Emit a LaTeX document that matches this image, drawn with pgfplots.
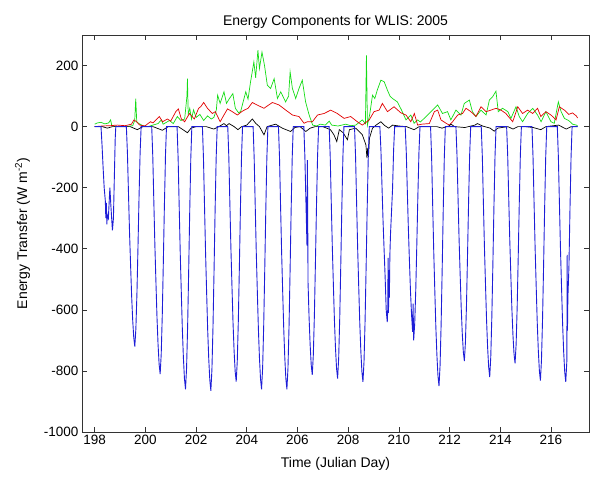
\documentclass[border=0pt]{standalone}
\usepackage{fontspec}
\setmainfont{Liberation Sans}
\usepackage{pgfplots}
\pgfplotsset{compat=1.18}
\definecolor{mblue}{RGB}{30,30,215}
\definecolor{mgreen}{RGB}{20,220,20}
\definecolor{mred}{RGB}{225,0,0}

\begin{document}
\begin{tikzpicture}
\begin{axis}[
  scale only axis, width=507pt, height=397pt,
  xmin=197.5, xmax=217.5, ymin=-1000, ymax=300,
  xtick={198,200,...,216}, ytick={-1000,-800,...,200},
  tick align=inside, tick pos=both, major tick length=5pt,
  axis line style={line width=0.7pt, black!80},
  every tick/.style={black!80, line width=0.7pt},
  /pgf/number format/assume math mode=true,
  /pgf/number format/1000 sep={},
  ticklabel style={font=\fontsize{13.5}{15}\selectfont},
  label style={font=\fontsize{14}{16}\selectfont},
  title style={font=\fontsize{14}{16}\selectfont, yshift=-3pt},
  title={Energy Components for WLIS: 2005},
  xlabel={Time (Julian Day)},
  ylabel={Energy Transfer (W m\textsuperscript{-2})},
  xlabel shift=5pt, ylabel shift=7pt,
  every axis plot/.append style={line width=0.7pt},
]
% green
\addplot[color=mgreen] coordinates {
(198.0,8)(198.1,12)(198.25,14)(198.4,9)(198.55,12)(198.63,22)(198.67,5)(198.8,0)
(199.2,0)(199.5,3)(199.58,20)(199.62,92)(199.66,15)(199.75,10)(199.9,3)(200.1,0)
(200.3,5)(200.5,10)(200.63,22)(200.7,8)(200.85,15)(200.95,20)(201.1,10)(201.26,33)
(201.4,20)(201.55,25)(201.64,100)(201.66,157)(201.69,40)(201.75,60)(201.82,25)(201.9,55)
(202.0,30)(202.15,40)(202.3,20)(202.45,35)(202.6,25)(202.7,30)(202.8,55)(202.85,103)
(202.95,76)(203.1,114)(203.2,76)(203.3,90)(203.45,108)(203.55,60)(203.68,45)(203.76,50)
(203.96,114)(204.05,90)(204.15,147)(204.28,212)(204.35,160)(204.44,250)(204.5,190)(204.6,244)
(204.7,200)(204.81,136)(204.94,125)(205.08,157)(205.21,92)(205.34,114)(205.53,81)(205.65,100)
(205.71,179)(205.8,125)(205.93,92)(206.06,125)(206.19,152)(206.32,81)(206.46,38)(206.6,5)
(206.75,2)(206.9,8)(207.1,5)(207.25,18)(207.35,5)(207.6,2)(207.9,8)(208.1,3)
(208.3,5)(208.56,22)(208.68,10)(208.72,233)(208.76,5)(208.85,40)(208.96,103)(209.05,92)
(209.15,120)(209.29,152)(209.42,147)(209.55,119)(209.65,100)(209.75,92)(209.94,81)(210.1,55)
(210.28,22)(210.47,38)(210.6,11)(210.74,22)(210.85,15)(211.4,60)(211.53,71)(211.72,43)
(211.92,49)(212.05,22)(212.25,54)(212.45,38)(212.58,76)(212.78,87)(212.9,49)(213.04,33)
(213.24,54)(213.44,38)(213.57,87)(213.7,98)(213.83,116)(213.92,49)(214.09,60)(214.3,49)
(214.42,27)(214.62,65)(214.75,33)(214.88,16)(215.08,43)(215.28,60)(215.47,38)(215.61,16)
(215.8,49)(216.0,16)(216.13,11)(216.29,81)(216.4,49)(216.53,27)(216.7,20)(216.85,8)
(217.0,5)(217.05,3)
};
% red
\addplot[color=mred] coordinates {
(198.0,0)(198.3,2)(198.6,3)(198.9,5)(199.2,3)(199.45,8)(199.55,22)(199.65,16)
(199.78,5)(199.98,2)(200.2,16)(200.3,12)(200.45,25)(200.55,33)(200.68,16)(200.87,25)
(201.0,18)(201.2,49)(201.3,58)(201.42,25)(201.55,16)(201.74,43)(201.93,25)(202.1,60)
(202.18,65)(202.3,79)(202.45,60)(202.64,43)(202.76,49)(202.95,16)(203.1,38)(203.24,58)
(203.43,49)(203.63,38)(203.8,49)(203.9,54)(204.05,60)(204.22,79)(204.4,71)(204.68,60)
(204.85,70)(205.01,79)(205.27,71)(205.54,54)(205.8,38)(206.06,33)(206.26,11)(206.39,16)
(206.59,16)(206.79,38)(207.05,43)(207.31,54)(207.57,43)(207.84,27)(208.1,33)(208.36,16)
(208.56,5)(208.83,22)(209.02,49)(209.22,54)(209.35,76)(209.55,49)(209.81,65)(210.08,45)
(210.28,38)(210.47,16)(210.61,43)(210.74,5)(210.9,8)(211.2,10)(211.4,49)(211.53,54)
(211.66,22)(211.86,11)(211.99,5)(212.12,16)(212.32,38)(212.51,43)(212.65,60)(212.84,49)
(213.04,33)(213.24,65)(213.44,49)(213.63,54)(213.83,60)(214.03,54)(214.22,43)(214.49,16)
(214.69,65)(214.88,43)(215.08,54)(215.28,43)(215.47,60)(215.6,33)(215.8,49)(216.0,38)
(216.2,22)(216.33,65)(216.53,54)(216.7,40)(216.85,45)(217.0,35)(217.05,28)
};
% black
\addplot[color=black] coordinates {
(198.0,0)(198.3,0)(198.5,-5)(198.7,0)(199.0,0)(199.4,0)(199.68,-10)(199.9,0)
(200.3,0)(200.67,-12)(200.9,0)(201.3,0)(201.66,-20)(201.8,-5)(202.0,0)(202.4,0)
(202.7,-8)(202.9,0)(203.1,10)(203.2,3)(203.3,10)(203.5,0)(203.65,-10)(203.8,0)
(204.0,5)(204.22,25)(204.35,11)(204.5,0)(204.68,-27)(204.8,0)(205.14,8)(205.4,-5)
(205.73,-16)(205.9,-3)(206.1,0)(206.33,-16)(206.5,-5)(206.7,0)(207.0,0)(207.3,-10)
(207.44,-27)(207.55,-49)(207.65,-10)(207.8,-20)(207.97,-43)(208.05,-10)(208.3,-5)(208.56,-27)
(208.7,-60)(208.74,-103)(208.77,-70)(208.8,-100)(208.84,-38)(208.96,-5)(209.1,5)(209.29,16)
(209.45,3)(209.6,-5)(209.75,5)(210.0,2)(210.3,0)(210.6,-10)(210.8,0)(211.5,0)
(211.7,-5)(212.0,3)(212.05,8)(212.2,0)(212.6,-3)(213.0,5)(213.1,10)(213.3,2)
(213.6,-5)(213.76,-15)(213.9,-5)(214.3,0)(214.5,-8)(214.7,0)(215.0,0)(215.3,-3)
(215.6,-10)(215.8,0)(216.3,5)(216.6,-8)(216.8,0)(217.05,0)
};
% blue
\addplot[color=mblue, sharp plot, line width=0.9pt] coordinates {
(198.0,0)
(198.25,0)(198.29,-60)(198.33,-130)(198.375,-200)(198.42,-243)(198.44,-300)(198.46,-250)(198.48,-320)
(198.5,-290)(198.54,-300)(198.6,-200)(198.64,-260)(198.7,-340)(198.74,-300)(198.78,-150)(198.81,-40)(198.833,0)
(199.25,0)(199.292,-86)(199.333,-216)(199.375,-346)(199.417,-454)(199.458,-554)(199.5,-634)(199.542,-691)
(199.583,-720)(199.625,-662)(199.667,-547)(199.708,-396)(199.75,-230)(199.792,-86)(199.833,0)
(200.25,0)(200.292,-97)(200.333,-243)(200.375,-389)(200.417,-510)(200.458,-624)(200.5,-713)(200.542,-778)
(200.583,-810)(200.625,-745)(200.667,-616)(200.708,-446)(200.75,-259)(200.78,-150)(200.792,-97)(200.833,0)
(201.25,0)(201.292,-103)(201.333,-258)(201.375,-413)(201.417,-542)(201.458,-662)(201.5,-757)(201.542,-826)
(201.583,-860)(201.625,-791)(201.667,-654)(201.708,-473)(201.75,-275)(201.792,-103)(201.833,0)
(202.25,0)(202.292,-104)(202.333,-260)(202.375,-415)(202.417,-545)(202.458,-666)(202.5,-761)(202.542,-830)
(202.583,-865)(202.625,-796)(202.667,-657)(202.708,-476)(202.75,-277)(202.792,-104)(202.833,0)
(203.25,0)(203.292,-100)(203.333,-251)(203.375,-401)(203.417,-526)(203.458,-643)(203.5,-735)(203.542,-802)
(203.583,-835)(203.625,-768)(203.667,-635)(203.708,-459)(203.75,-267)(203.792,-100)(203.833,0)
(204.25,0)(204.292,-103)(204.333,-258)(204.375,-413)(204.417,-542)(204.458,-662)(204.5,-757)(204.542,-826)
(204.583,-860)(204.625,-791)(204.667,-654)(204.708,-473)(204.75,-275)(204.792,-103)(204.833,0)
(205.25,0)(205.292,-103)(205.333,-258)(205.375,-413)(205.417,-542)(205.458,-662)(205.5,-757)(205.542,-826)
(205.583,-860)(205.625,-791)(205.667,-654)(205.708,-473)(205.75,-275)(205.792,-103)(205.833,0)
(206.25,0)(206.292,-98)(206.333,-244)(206.375,-390)(206.39,-110)(206.4,-228)(206.417,-512)(206.458,-626)
(206.5,-715)(206.542,-780)(206.583,-813)(206.625,-748)(206.667,-618)(206.708,-447)(206.75,-260)(206.792,-98)(206.833,0)
(207.25,0)(207.292,-99)(207.333,-248)(207.375,-396)(207.417,-520)(207.458,-635)(207.5,-726)(207.542,-792)
(207.583,-825)(207.625,-759)(207.667,-627)(207.708,-454)(207.75,-264)(207.792,-99)(207.833,0)
(208.25,0)(208.292,-100)(208.333,-251)(208.375,-401)(208.417,-527)(208.458,-644)(208.5,-736)(208.542,-803)
(208.583,-836)(208.625,-769)(208.667,-635)(208.708,-460)(208.75,-268)(208.792,-100)(208.833,0)
(209.25,0)(209.292,-77)(209.333,-192)(209.375,-307)(209.417,-403)(209.458,-493)(209.5,-600)(209.52,-620)
(209.542,-640)(209.56,-600)(209.575,-430)(209.59,-610)(209.61,-470)(209.625,-560)(209.645,-420)(209.67,-352)
(209.75,-205)(209.792,-77)(209.833,0)
(210.25,0)(210.292,-84)(210.333,-210)(210.375,-336)(210.417,-441)(210.458,-539)(210.5,-616)(210.542,-672)
(210.56,-580)(210.583,-700)(210.625,-644)(210.667,-532)(210.708,-385)(210.75,-224)(210.792,-84)(210.833,0)
(211.25,0)(211.292,-102)(211.333,-255)(211.375,-408)(211.417,-536)(211.458,-655)(211.5,-748)(211.542,-816)
(211.583,-850)(211.625,-782)(211.667,-646)(211.708,-468)(211.75,-272)(211.792,-102)(211.833,0)
(212.25,0)(212.292,-92)(212.333,-230)(212.375,-369)(212.417,-484)(212.458,-591)(212.5,-676)(212.542,-737)
(212.583,-768)(212.625,-707)(212.667,-584)(212.708,-422)(212.75,-246)(212.792,-92)(212.833,0)
(213.25,0)(213.292,-98)(213.333,-246)(213.375,-394)(213.417,-517)(213.458,-631)(213.5,-722)(213.542,-787)
(213.583,-820)(213.625,-754)(213.667,-623)(213.708,-451)(213.75,-262)(213.792,-98)(213.833,0)
(214.25,0)(214.292,-93)(214.333,-233)(214.375,-372)(214.417,-488)(214.458,-597)(214.5,-682)(214.542,-744)
(214.583,-775)(214.625,-713)(214.667,-589)(214.708,-426)(214.75,-248)(214.792,-93)(214.833,0)
(215.25,0)(215.292,-100)(215.333,-250)(215.375,-399)(215.417,-524)(215.458,-641)(215.5,-732)(215.542,-799)
(215.583,-832)(215.625,-765)(215.667,-632)(215.708,-458)(215.75,-266)(215.792,-100)(215.833,0)
(216.25,0)(216.292,-100)(216.333,-251)(216.375,-401)(216.417,-527)(216.458,-644)(216.5,-736)(216.542,-803)
(216.583,-836)(216.625,-769)(216.64,-420)(216.65,-668)(216.667,-560)(216.708,-460)(216.75,-268)(216.792,-100)(216.833,0)
(217.05,0)
};
\end{axis}
\pgfresetboundingbox
\path ([shift={(-82pt,-48pt)}]current axis.south west) rectangle ([shift={(2pt,35pt)}]current axis.north east);
\end{tikzpicture}
\end{document}
